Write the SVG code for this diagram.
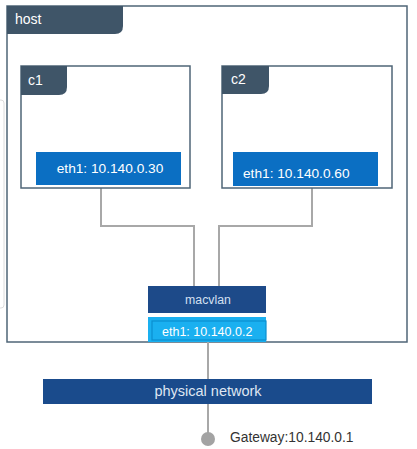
<svg xmlns="http://www.w3.org/2000/svg" width="417" height="449" viewBox="0 0 417 449">
<style>
.frame{fill:#fff;stroke:#4f6577;stroke-width:1.5}
.tab{fill:#3f5568}
.tabt{font-family:"Liberation Sans",Arial,sans-serif;font-size:14px;fill:#fff}
.eth{fill:#0b6fc3}
.etht{font-family:"Liberation Sans",Arial,sans-serif;font-size:13.7px;fill:#fff}
.wire{fill:none;stroke:#a8a8a8;stroke-width:2}
</style>
<rect width="417" height="449" fill="#fff"/>
<rect x="-6" y="100" width="10" height="208" rx="3" fill="none" stroke="#dcdcdc" stroke-width="1"/>
<g id="host">
<rect class="frame" x="7" y="6" width="400" height="336"/>
<path class="tab" d="M7,6 H123 V26 Q123,34 115,34 H7 Z"/>
<text class="tabt" x="15" y="24">host</text>
</g>
<g id="connectors">
<path class="wire" d="M101,188 V226 H194 V286"/>
<path class="wire" d="M312,188 V226 H219 V286"/>
<path class="wire" d="M208,342 V379"/>
<path class="wire" d="M208,404 V438"/>
</g>
<g id="c1">
<rect class="frame" x="21" y="66" width="169" height="122"/>
<path class="tab" d="M21,66 H67 V87 Q67,95 59,95 H21 Z"/>
<text class="tabt" x="28" y="85">c1</text>
<rect class="eth" x="36" y="152" width="145" height="33"/>
<text class="etht" x="110" y="173" text-anchor="middle">eth1: 10.140.0.30</text>
</g>
<g id="c2">
<rect class="frame" x="222" y="66" width="170" height="122"/>
<path class="tab" d="M222,66 H269 V86 Q269,94 261,94 H222 Z"/>
<text class="tabt" x="231" y="84">c2</text>
<rect class="eth" x="233" y="152" width="145" height="34"/>
<text class="etht" x="243" y="178">eth1: 10.140.0.60</text>
</g>
<g id="macvlan">
<rect x="148" y="286" width="118" height="27" fill="#1d4a89"/>
<text x="208" y="304" text-anchor="middle" font-family="'Liberation Sans',Arial,sans-serif" font-size="12.3" fill="#d4e0f2">macvlan</text>
</g>
<g id="eth1-host">
<rect x="148" y="317" width="118" height="25" fill="#1ab0f0"/>
<rect x="152" y="321" width="114" height="19" fill="none" stroke="#0a8fd0" stroke-width="1.2"/>
<text x="162" y="336" font-family="'Liberation Sans',Arial,sans-serif" font-size="12.5" fill="#fff">eth1: 10.140.0.2</text>
</g>
<g id="physical-network">
<rect x="43" y="379" width="329" height="25" fill="#1a4b8c"/>
<text x="208" y="396" text-anchor="middle" font-family="'Liberation Sans',Arial,sans-serif" font-size="14.5" fill="#dfe6f2">physical network</text>
</g>
<g id="gateway">
<circle cx="208" cy="439" r="7" fill="#a3a3a3"/>
<text x="230" y="442" font-family="'Liberation Sans',Arial,sans-serif" font-size="13.8" fill="#333">Gateway:10.140.0.1</text>
</g>
</svg>
